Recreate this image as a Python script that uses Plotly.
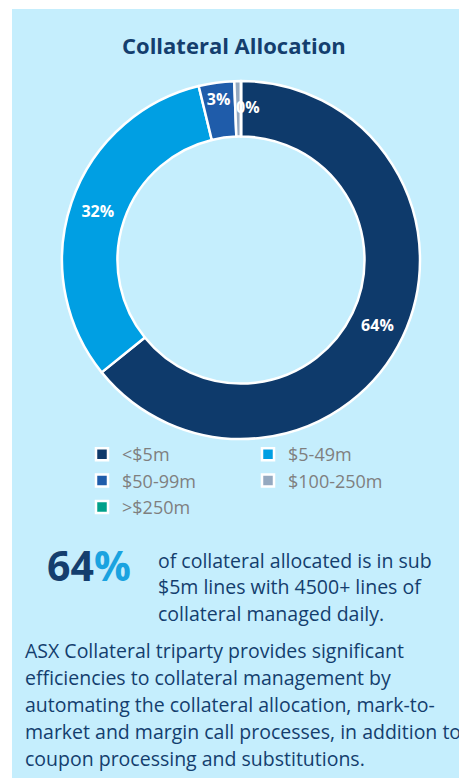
import math
import plotly.graph_objects as go

categories = ["<$5m", "$5-49m", "$50-99m", "$100-250m", ">$250m"]
values = [64.2, 32.0, 3.2, 0.6, 0.0]
slice_labels = ["64%", "32%", "3%", "0%", ""]
colors = ["#0E3A6B", "#009FE3", "#1F5CAA", "#95A9C0", "#00A08A"]

title_text = "Collateral Allocation"
stat_number = "64"
stat_lines = ["of collateral allocated is in sub", "$5m lines with 4500+ lines of", "collateral managed daily."]
para_lines = [
    "ASX Collateral triparty provides significant",
    "efficiencies to collateral management by",
    "automating the collateral allocation, mark-to-",
    "market and margin call processes, in addition to",
    "coupon processing and substitutions.",
]

W, H = 459, 778
FONT = "Open Sans"
NAVY = "#143E6E"
BG = "#C5EEFD"
HOLE = 0.69

def px(x):
    return x / W

def py(y):
    return 1 - y / H

# pie geometry (pixels)
pie_x = [62, 420]
pie_y = [81, 439]
cx, cy = sum(pie_x) / 2, sum(pie_y) / 2
R = (pie_x[1] - pie_x[0]) / 2

# tiny slices: label placed as annotation at mid-ring of the slice (too thin for inside text)
total = sum(values)
tiny = [i for i, v in enumerate(values) if 0 < v / total < 0.01 and slice_labels[i]]
pie_text = [("" if i in tiny else t) for i, t in enumerate(slice_labels)]

fig = go.Figure()
fig.add_trace(go.Pie(
    labels=categories,
    values=values,
    text=pie_text,
    textinfo="text",
    textposition="inside",
    insidetextorientation="horizontal",
    textfont=dict(family=FONT, size=16, color="white", weight="bold"),
    marker=dict(colors=colors, line=dict(color="white", width=2.5)),
    hole=HOLE,
    sort=False,
    direction="clockwise",
    rotation=0,
    domain=dict(x=[px(pie_x[0]), px(pie_x[1])], y=[py(pie_y[1]), py(pie_y[0])]),
    hoverinfo="label+percent",
    showlegend=True,
))

fig.add_shape(type="rect", xref="paper", yref="paper",
              x0=px(12), x1=1, y0=0, y1=py(9),
              fillcolor=BG, line=dict(width=0), layer="below")

annotations = [
    dict(text=f"<b>{title_text}</b>", x=px(234), y=py(45), xanchor="center", yanchor="middle",
         font=dict(family=FONT, size=22, color=NAVY)),
    dict(text=f"<b>{stat_number}<span style='color:#1AA3E0'>%</span></b>", x=px(45), y=py(565),
         xanchor="left", yanchor="middle", font=dict(family=FONT, size=41, color=NAVY)),
]
cum = 0
for i, v in enumerate(values):
    if i in tiny:
        ang = 2 * math.pi * (cum + v / 2) / total
        rm = R * (1 + HOLE) / 2
        annotations.append(dict(text=f"<b>{slice_labels[i]}</b>", x=px(cx + rm * math.sin(ang)),
                                y=py(cy - rm * math.cos(ang) - 2), xanchor="center", yanchor="middle",
                                xshift=10, font=dict(family=FONT, size=16, color="white")))
    cum += v
for i, line in enumerate(stat_lines):
    annotations.append(dict(text=line, x=px(156), y=py(560 + i * 26.5), xanchor="left", yanchor="middle",
                            font=dict(family=FONT, size=19.5, color=NAVY)))
for i, line in enumerate(para_lines):
    annotations.append(dict(text=line, x=px(23), y=py(650 + i * 27), xanchor="left", yanchor="middle",
                            font=dict(family=FONT, size=19.5, color=NAVY)))
for a in annotations:
    a.update(xref="paper", yref="paper", showarrow=False)

fig.update_layout(
    width=W, height=H,
    margin=dict(l=0, r=0, t=0, b=0),
    paper_bgcolor="white",
    plot_bgcolor="white",
    annotations=annotations,
    uniformtext=dict(minsize=16, mode="show"),
    legend=dict(
        orientation="h",
        x=px(82), y=py(436), xanchor="left", yanchor="top",
        entrywidth=121, entrywidthmode="pixels",
        font=dict(family=FONT, size=18, color="#7F7F7F"),
        bgcolor="rgba(0,0,0,0)",
        traceorder="normal",
    ),
)

fig.write_html("out.html")
